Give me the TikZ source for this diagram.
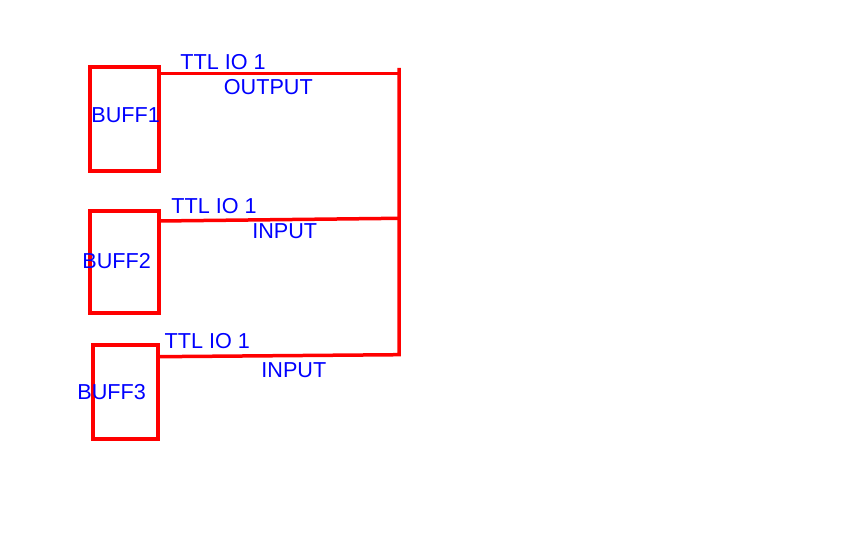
\documentclass[tikz,border=0pt]{standalone}
\usepackage{fontspec}
\setmainfont{Liberation Sans}
\usetikzlibrary{positioning}

\begin{document}
\begin{tikzpicture}[
  x=0.02cm, y=-0.02cm,
  buffbox/.style={draw=red, line width=0.08cm, inner sep=0pt},
  wire/.style={draw=red, line width=0.07cm},
  lbl/.style={text=blue, inner sep=0pt, font=\fontsize{12.3}{14}\selectfont}
]
\useasboundingbox (0,0) rectangle (864,540);

% buffers
\node[buffbox, minimum width=1.38cm, minimum height=2.08cm] (buff1) at (124.2,119.3) {};
\node[buffbox, minimum width=1.38cm, minimum height=2.03cm] (buff2) at (124.9,262) {};
\node[buffbox, minimum width=1.30cm, minimum height=1.87cm] (buff3) at (125.2,392) {};
\node[lbl] (name1) at (125.7,115.3) {BUFF1};
\node[lbl] (name2) at (116.7,261.3) {BUFF2};
\node[lbl] (name3) at (111.7,392) {BUFF3};

% bus
\coordinate (bustop) at (399,68);
\coordinate (bus1) at (399,73.7);
\coordinate (bus2) at (399,218.3);
\coordinate (bus3) at (399,354.7);
\coordinate (io1) at (158.9,73.7);
\coordinate (io2) at (159.3,221);
\coordinate (io3) at (157.7,356.7);

\draw[wire] (io1) -- (bus1);
\draw[wire] (io2) -- (bus2);
\draw[wire] (io3) -- (bus3) -- (bustop);

\node[lbl] (ttl1) at (223,62.5) {TTL IO 1};
\node[lbl] (dir1) at (268.3,86.7) {OUTPUT};
\node[lbl] (ttl2) at (214,205.8) {TTL IO 1};
\node[lbl] (dir2) at (284.7,231.3) {INPUT};
\node[lbl] (ttl3) at (207.3,341.3) {TTL IO 1};
\node[lbl] (dir3) at (293.8,370) {INPUT};
\end{tikzpicture}
\end{document}
